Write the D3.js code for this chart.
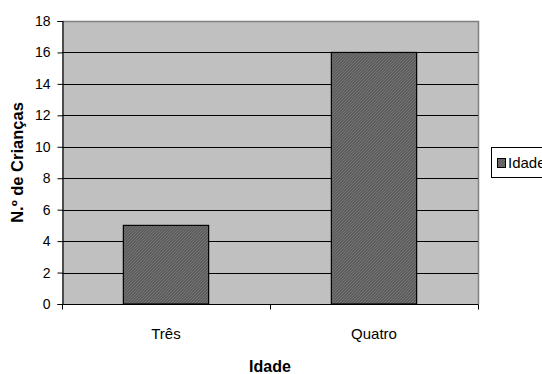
<!DOCTYPE html>
<html>
<head>
<meta charset="utf-8">
<script src="https://cdn.jsdelivr.net/npm/d3@7"></script>
<style>
  html, body { margin: 0; padding: 0; background: #fff; }
  svg { display: block; font-family: "Liberation Sans", Arial, sans-serif; }
</style>
</head>
<body>
<svg id="chart" width="542" height="374"></svg>
<script>
// Number of children by age group
const categories = ["Três", "Quatro"];
const values = [5, 16];
const yTicks = [0, 2, 4, 6, 8, 10, 12, 14, 16, 18];
const seriesName = "Idade";
const xTitle = "Idade";
const yTitle = "N.º de Crianças";

const svg = d3.select("#chart");
const plot = { left: 62, right: 478, top: 21, bottom: 304 };

const x = d3.scaleBand().domain(categories).range([plot.left, plot.right]);
const y = d3.scaleLinear().domain([0, 18]).range([plot.bottom, plot.top]);

// Fine hatch pattern for the bars
const defs = svg.append("defs");
const pat = defs.append("pattern")
  .attr("id", "hatch").attr("patternUnits", "userSpaceOnUse")
  .attr("width", 3).attr("height", 3);
pat.append("rect").attr("width", 3).attr("height", 3).attr("fill", "#5e5e5e");
pat.append("path").attr("d", "M0,3 L3,0").attr("stroke", "#747474").attr("stroke-width", 1);

// Plot background
svg.append("rect")
  .attr("x", plot.left).attr("y", plot.top)
  .attr("width", plot.right - plot.left).attr("height", plot.bottom - plot.top)
  .attr("fill", "#c0c0c0");

// Top and right plot border
svg.append("path")
  .attr("d", `M${plot.left},${plot.top + 0.5}H${plot.right + 0.5}V${plot.bottom}`)
  .attr("fill", "none").attr("stroke", "#808080").attr("stroke-width", 1.5);

// Horizontal gridlines
svg.append("g").selectAll("line")
  .data(yTicks.filter(t => t > 0 && t < 18))
  .join("line")
  .attr("x1", plot.left).attr("x2", plot.right)
  .attr("y1", d => Math.round(y(d)) + 0.5).attr("y2", d => Math.round(y(d)) + 0.5)
  .attr("stroke", "#000").attr("stroke-width", 1.2);

// Bars
const bw = x.bandwidth() * 0.41;
svg.append("g").selectAll("rect")
  .data(values)
  .join("rect")
  .attr("x", (d, i) => x(categories[i]) + x.bandwidth() / 2 - bw / 2)
  .attr("y", d => y(d))
  .attr("width", bw)
  .attr("height", d => y(0) - y(d))
  .attr("fill", "url(#hatch)")
  .attr("stroke", "#000").attr("stroke-width", 1.2);

// Y axis
const yAxis = svg.append("g")
  .attr("transform", `translate(${plot.left + 0.5},0)`)
  .call(d3.axisLeft(y).tickValues(yTicks).tickSize(5).tickPadding(7));
yAxis.select(".domain").attr("stroke", "#000").attr("stroke-width", 1.2);
yAxis.selectAll(".tick line").attr("stroke", "#000");
yAxis.selectAll(".tick text").attr("font-size", 14).attr("fill", "#000")
  .attr("font-family", "Liberation Sans, Arial, sans-serif");

// X axis with ticks at band boundaries
const xAxisG = svg.append("g").attr("transform", `translate(0,${plot.bottom + 0.5})`);
xAxisG.append("line")
  .attr("x1", plot.left).attr("x2", plot.right + 0.5)
  .attr("stroke", "#000").attr("stroke-width", 1.2);
const boundaries = categories.map(c => x(c)).concat([x.range()[1]]);
xAxisG.selectAll("line.tk").data(boundaries).join("line").attr("class", "tk")
  .attr("x1", d => d + 0.5).attr("x2", d => d + 0.5)
  .attr("y1", 0).attr("y2", 5).attr("stroke", "#000");
xAxisG.selectAll("text").data(categories).join("text")
  .attr("x", d => x(d) + x.bandwidth() / 2)
  .attr("y", 34.5)
  .attr("text-anchor", "middle")
  .attr("font-size", 15)
  .text(d => d);

// Axis titles
svg.append("text")
  .attr("x", (plot.left + plot.right) / 2).attr("y", 372)
  .attr("text-anchor", "middle").attr("font-size", 16).attr("font-weight", "bold")
  .text(xTitle);
svg.append("text")
  .attr("transform", `translate(23,${(plot.top + plot.bottom) / 2}) rotate(-90)`)
  .attr("text-anchor", "middle").attr("font-size", 16.5).attr("font-weight", "bold")
  .text(yTitle);

// Legend (runs past the right edge of the canvas)
const lg = svg.append("g").attr("transform", "translate(491,147)");
lg.append("rect").attr("x", 0.5).attr("y", 0.5).attr("width", 70).attr("height", 30)
  .attr("fill", "#fff").attr("stroke", "#000");
lg.append("rect").attr("x", 6.5).attr("y", 11.5).attr("width", 8).attr("height", 9)
  .attr("fill", "url(#hatch)").attr("stroke", "#000");
lg.append("text").attr("x", 17).attr("y", 21.3).attr("font-size", 15).text(seriesName);
</script>
</body>
</html>
